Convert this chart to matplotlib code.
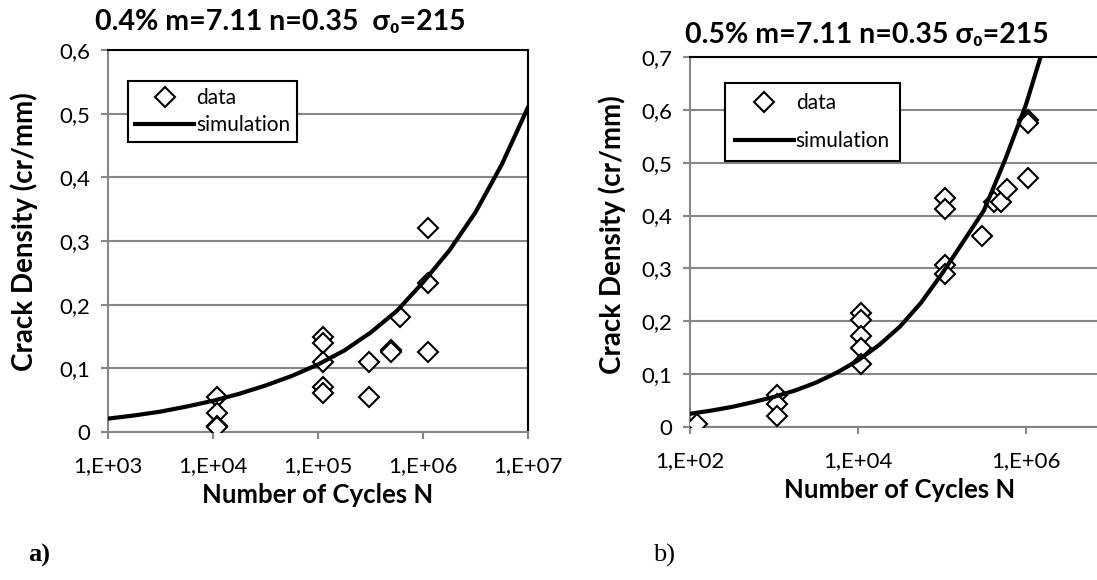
import matplotlib
matplotlib.use('Agg')
import matplotlib.pyplot as plt

plt.rcParams['font.family'] = ['Lato', 'DejaVu Sans']

# panel a) 0.4 %
data_a_n = [1.08e4, 1.08e4, 1.08e4, 1.08e4,
            1.11e5, 1.11e5, 1.11e5, 1.11e5, 1.11e5,
            3.08e5, 3.08e5, 5.0e5, 5.0e5, 6.0e5,
            1.11e6, 1.11e6, 1.11e6]
data_a_cd = [0.055, 0.030, 0.010, 0.008,
             0.150, 0.140, 0.110, 0.071, 0.061,
             0.110, 0.055, 0.129, 0.125, 0.180,
             0.320, 0.234, 0.125]
sim_a_n = [1e3, 1.78e3, 3.16e3, 5.62e3, 1e4, 1.78e4, 3.16e4, 5.62e4, 1e5,
           1.78e5, 3.16e5, 5.62e5, 1e6, 1.78e6, 3.16e6, 5.62e6, 1e7]
sim_a_cd = [0.021, 0.026, 0.032, 0.040, 0.049, 0.060, 0.073, 0.088, 0.106,
            0.128, 0.156, 0.190, 0.235, 0.285, 0.345, 0.420, 0.510]

# panel b) 0.5 %
data_b_n = [1.2e2, 1.1e3, 1.1e3, 1.1e3,
            1.1e4, 1.1e4, 1.1e4, 1.1e4, 1.1e4,
            1.1e5, 1.1e5, 1.1e5, 1.1e5, 3.0e5,
            4.2e5, 5.1e5, 5.9e5, 1.07e6, 1.07e6, 1.07e6]
data_b_cd = [0.005, 0.060, 0.043, 0.020,
             0.216, 0.202, 0.172, 0.150, 0.120,
             0.433, 0.412, 0.307, 0.290, 0.362,
             0.426, 0.425, 0.451, 0.581, 0.576, 0.472]
sim_b_n = [1e2, 1.78e2, 3.16e2, 5.62e2, 1e3, 1.78e3, 3.16e3, 5.62e3, 1e4,
           1.78e4, 3.16e4, 5.62e4, 1e5, 1.78e5, 3.16e5, 5.62e5, 1e6,
           1.78e6, 3.16e6]
sim_b_cd = [0.025, 0.031, 0.038, 0.047, 0.057, 0.069, 0.084, 0.103, 0.126,
            0.155, 0.190, 0.235, 0.290, 0.350, 0.410, 0.505, 0.610,
            0.740, 0.890]

xticks_a = [1e3, 1e4, 1e5, 1e6, 1e7]
xlabels_a = ['1,E+03', '1,E+04', '1,E+05', '1,E+06', '1,E+07']
xticks_b = [1e2, 1e4, 1e6]
xlabels_b = ['1,E+02', '1,E+04', '1,E+06']
yticks_a = [0, 0.1, 0.2, 0.3, 0.4, 0.5, 0.6]
yticks_b = [0, 0.1, 0.2, 0.3, 0.4, 0.5, 0.6, 0.7]

W, H = 1097, 580
fig = plt.figure(figsize=(W / 100, H / 100), dpi=100)

gray = '#868686'


def px_axes(x0, y0, x1, y1):
    return fig.add_axes([x0 / W, 1 - y1 / H, (x1 - x0) / W, (y1 - y0) / H])


def style(ax, yticks, xticks, xlabels, xlim):
    ax.set_xscale('log')
    ax.set_xlim(*xlim)
    ax.set_ylim(yticks[0], yticks[-1])
    ax.set_yticks(yticks)
    ax.set_yticklabels(['0' if v == 0 else ('%.1f' % v).replace('.', ',') for v in yticks])
    ax.set_xticks(xticks)
    ax.set_xticklabels(xlabels)
    ax.xaxis.set_minor_locator(matplotlib.ticker.NullLocator())
    ax.grid(axis='y', color=gray, linewidth=1.5)
    ax.set_axisbelow(True)
    for s in ['left', 'bottom']:
        ax.spines[s].set_color(gray)
        ax.spines[s].set_linewidth(1.5)
    for s in ['top', 'right']:
        ax.spines[s].set_color('black')
        ax.spines[s].set_linewidth(1.5)
    ax.tick_params(axis='both', direction='out', length=5, width=1.5,
                   color=gray, labelsize=16)
    ax.tick_params(axis='x', pad=12)
    ax.tick_params(axis='y', pad=8)
    ax.set_xlabel('Number of Cycles N', fontsize=18.5, fontweight='bold', labelpad=5)
    ax.set_ylabel('Crack Density (cr/mm)', fontsize=20, fontweight='bold')


def draw(ax, dn, dc, sn, sc):
    ax.plot(dn, dc, linestyle='none', marker='D', markersize=10,
            markerfacecolor='white', markeredgecolor='black',
            markeredgewidth=1.5, label='data', zorder=3)
    ax.plot(sn, sc, color='black', linewidth=3, label='simulation', zorder=4)


ax1 = px_axes(108, 50, 528, 432)
draw(ax1, data_a_n, data_a_cd, sim_a_n, sim_a_cd)
style(ax1, yticks_a, xticks_a, xlabels_a, (1e3, 1e7))
ax1.yaxis.set_label_coords((38 - 108) / 420, (432 - 232) / 382)
leg1 = ax1.legend(loc='upper left', bbox_to_anchor=(0.048, 0.92), fontsize=15,
                  frameon=True, fancybox=False, edgecolor='black', framealpha=1,
                  handlelength=2.8, handletextpad=0.1, labelspacing=0.35,
                  borderpad=0.35, borderaxespad=0)
leg1.get_frame().set_linewidth(1.5)

ax2 = px_axes(690, 57, 1110, 427)
draw(ax2, data_b_n, data_b_cd, sim_b_n, sim_b_cd)
style(ax2, yticks_b, xticks_b, xlabels_b, (1e2, 1e7))
ax2.spines['right'].set_visible(False)
ax2.yaxis.set_label_coords((626 - 690) / 420, (427 - 235) / 370)
leg2 = ax2.legend(loc='upper left', bbox_to_anchor=(0.083, 0.93), fontsize=15,
                  frameon=True, fancybox=False, edgecolor='black', framealpha=1,
                  handlelength=2.8, handletextpad=0.1, labelspacing=0.85,
                  borderpad=0.5, borderaxespad=0)
leg2.get_frame().set_linewidth(1.5)

fig.text(95 / W, 1 - 22 / H, '0.4% m=7.11 n=0.35  σ\u2080=215', fontsize=20.5,
         fontweight='bold', ha='left', va='center')
fig.text(685 / W, 1 - 35 / H, '0.5% m=7.11 n=0.35 σ\u2080=215', fontsize=20.5,
         fontweight='bold', ha='left', va='center')

fig.text(28 / W, 1 - 555 / H, 'a)', fontsize=19, fontweight='bold',
         family='Liberation Serif', ha='left', va='center')
fig.text(653 / W, 1 - 555 / H, 'b)', fontsize=19,
         family='Liberation Serif', ha='left', va='center')

fig.savefig('out.png', dpi=100)
